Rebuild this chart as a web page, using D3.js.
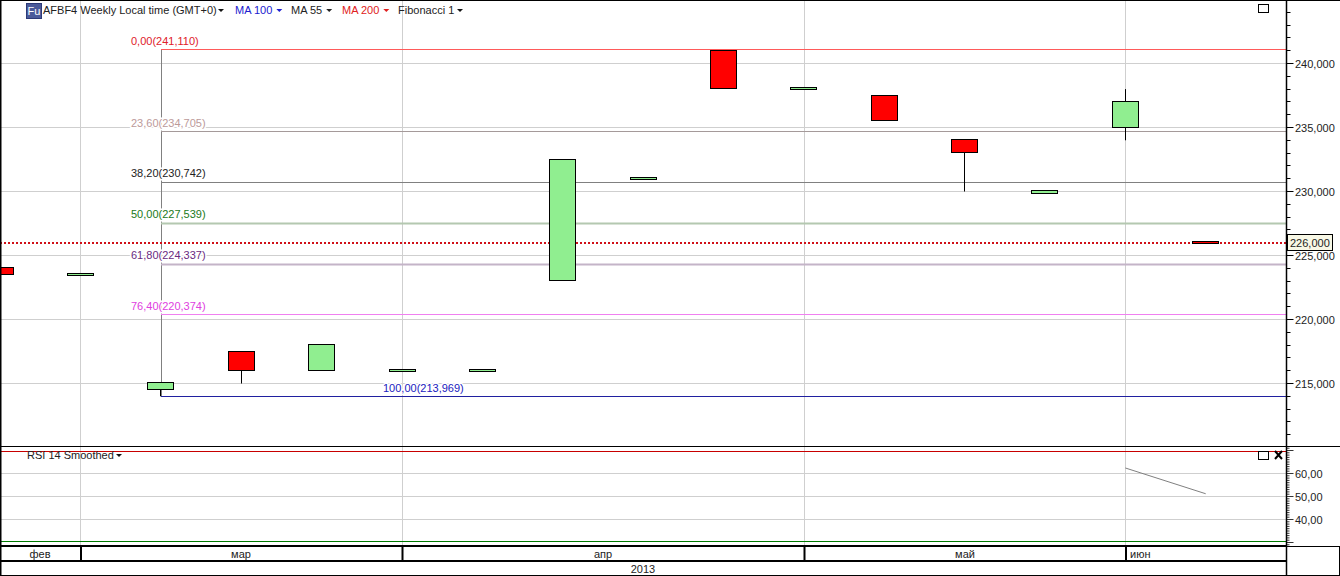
<!DOCTYPE html>
<html><head><meta charset="utf-8">
<script src="https://cdn.jsdelivr.net/npm/d3@7/dist/d3.min.js"></script>
<style>html,body{margin:0;padding:0;background:#fff}svg{display:block}text{font-family:"Liberation Sans",Arial,sans-serif;font-size:11px}</style>
</head><body><svg id="c" width="1340" height="576"></svg>
<script>
// --- data ---
const opens  = [224.0,223.4,214.5,217.5,216.0,215.95,215.95,223.0,230.9,241.0,237.9,237.5,234.0,229.85,235.0,226.05];
const closes = [223.48,223.55,215.05,216.0,218.0,216.1,216.1,232.45,231.05,238.0,238.1,235.5,233.0,230.05,237.0,225.9];
const highs  = [224.0,223.55,215.05,217.5,218.0,216.1,216.1,232.45,231.05,241.0,238.1,237.5,234.0,230.05,238.0,226.05];
const lows   = [223.48,223.4,214.0,215.0,216.0,215.95,215.95,223.0,230.9,238.0,237.9,235.5,230.0,229.85,234.0,225.9];
const priceTicks = [240,235,230,225,220,215];
const fibRatios = ["0,00","23,60","38,20","50,00","61,80","76,40","100,00"];
const fibValues = [241.110,234.705,230.742,227.539,224.337,220.374,213.969];
const fibText   = ["#e0202a","#bc9a9a","#222222","#1a7a1a","#6a2a80","#e040e0","#2020c0"];
const fibLine   = ["#ff5a5a","#a59a9a","#808080","#b4c8b0","#c4b4c8","#f080f0","#2020a0"];
const fibWidth  = [1,1,1,2,2,1,1];
const lastPrice = 226;
const rsiTicks = [60,50,40];
const rsiBars = [14,15];
const rsiValues = [62.4,51.2];
const rsiUpper = 69.5, rsiLower = 30.3;
const months = ["фев","мар","апр","май","июн"];
const year = "2013";
const legend = [["MA 100","#2020d0",235],["MA 55","#222",291],["MA 200","#e02020",342]];

// --- scales ---
const svg = d3.select("#c");
const W=1340,H=576,axisX=1286.5;
const x = d3.scaleLinear().domain([0,15]).range([0.2,1205.7]);
const y = d3.scaleLinear().domain([240,215]).range([63.5,383.5]);
const yr = d3.scaleLinear().domain([60,40]).range([473.5,519.5]);
const snap = v=>Math.round(v-0.5)+0.5;
const line=(x1,y1,x2,y2,c,w=1,dash)=>svg.append("line").attr("x1",x1).attr("y1",y1).attr("x2",x2).attr("y2",y2).attr("stroke",c).attr("stroke-width",w).attr("stroke-dasharray",dash||null);
const text=(s,tx,ty,c="#222",a="start")=>svg.append("text").attr("x",tx).attr("y",ty).attr("fill",c).attr("text-anchor",a).text(s);
const tri=(tx,ty,c)=>svg.append("path").attr("d",`M${tx},${ty}h6l-3,3z`).attr("fill",c);

// --- grid ---
const gridC="#cfcfcf";
[80.5,402.5,804.5,1125.5].forEach(gx=>line(gx,1,gx,545,gridC));
priceTicks.forEach(v=>line(0,snap(y(v)),axisX,snap(y(v)),gridC));
rsiTicks.forEach(v=>line(0,snap(yr(v)),axisX,snap(yr(v)),gridC));

// --- Fibonacci ---
line(161.5,49,161.5,396.5,"#808080");
fibValues.forEach((v,i)=>{
  const ly=fibWidth[i]==2?Math.round(y(v))+0.5:snap(y(v));
  line(161,ly,axisX,ly,fibLine[i],fibWidth[i]);
});
const labelY=[45,127,177,218,259,310,392];
fibValues.forEach((v,i)=>{
  const s=`${fibRatios[i]}(${d3.format(".3f")(v).replace(".",",")})`;
  const lx=i==6?383:131, ly=labelY[i];
  svg.append("text").attr("x",lx).attr("y",ly).attr("fill",fibText[i]).attr("stroke","#fff").attr("stroke-width",3).attr("paint-order","stroke").text(s);
});

// --- last price ---
line(0,243,axisX,243,"#d01018",2,"2,2");

// --- candles ---
opens.forEach((o,i)=>{
  const c=closes[i],cx=snap(x(i));
  const up=c>=o;
  const t=snap(y(Math.max(o,c))-0.4),b=snap(y(Math.min(o,c))-0.4);
  if(highs[i]>Math.max(o,c)) line(cx,y(highs[i]),cx,t,"#000");
  if(lows[i]<Math.min(o,c)) line(cx,b,cx,y(lows[i]),"#000");
  svg.append("rect").attr("x",cx-13).attr("y",t).attr("width",26).attr("height",Math.max(b-t,2))
    .attr("fill",up?"#90ee90":"#ff0000").attr("stroke","#000").attr("stroke-width",1);
});

// --- RSI ---
line(0,snap(yr(rsiUpper)),axisX,snap(yr(rsiUpper)),"#c80000");
line(0,snap(yr(rsiLower)),axisX,snap(yr(rsiLower)),"#007a00");
svg.append("path").datum(rsiValues).attr("fill","none").attr("stroke","#808080")
  .attr("d",d3.line().x((d,i)=>x(rsiBars[i])).y(d=>yr(d)));

// --- panel frame ---
line(0,446.5,W,446.5,"#000");
line(0,0.5,W,0.5,"#000");
line(0.5,0,0.5,H,"#000",2);
line(W-0.5,546,W-0.5,H,"#000");
line(axisX,0,axisX,H,"#000",1.5);

// --- price axis ---
d3.range(205,246,1).forEach(v=>{
  const ty=snap(y(v));
  if(ty<2||ty>445)return;
  line(axisX,ty,axisX+(v%5==0?7:4),ty,"#000");
});
priceTicks.forEach(v=>text(d3.format(".3f")(v).replace(".",","),1295,snap(y(v))+4));

// --- RSI axis ---
d3.range(27,72,1).forEach(v=>{
  const ty=yr(v);
  if(ty<448||ty>545)return;
  line(axisX,ty,axisX+(v%10==0?7:3),ty,"#000",0.8);
});
rsiTicks.forEach(v=>text(`${v},00`,1295,snap(yr(v))+4));

// --- price label ---
svg.append("rect").attr("x",1287.5).attr("y",234.5).attr("width",45).attr("height",16).attr("fill","#f8f8e6").attr("stroke","#000");
text(d3.format(".3f")(lastPrice).replace(".",","),1290,246.5);

// --- time axis ---
line(0,546,axisX,546,"#000",2);
line(axisX,546.5,W,546.5,"#000");
line(0,561,axisX,561,"#000",2);
line(0,575.5,W,575.5,"#000");
[81,402.5,804.5,1126].forEach(tx=>line(tx,546,tx,561,"#000",2));
[[0,40,"middle"],[1,241,"middle"],[2,603,"middle"],[3,965,"middle"],[4,1130,"start"]].forEach(([m,tx,a])=>text(months[m],tx,558,"#222",a));
text(year,643,573,"#222","middle");

// --- toolbar ---
svg.append("rect").attr("x",26.5).attr("y",3.5).attr("width",15).attr("height",15).attr("fill","#4a5a9a").attr("stroke","#2c3a78");
svg.append("text").attr("x",34).attr("y",15).attr("fill","#fff").attr("text-anchor","middle").text("Fu");
text("AFBF4 Weekly Local time (GMT+0)",43,14);
tri(218,9,"#111");
legend.forEach(([s,c,lx])=>{
  const t=text(s,lx,14,c);
  tri(lx+t.node().getComputedTextLength()+4,9,c);
});
text("Fibonacci 1",398,14);
tri(457,9,"#111");
text("RSI 14 Smoothed",27,459);
tri(116,454,"#111");
svg.append("rect").attr("x",1258.5).attr("y",4.5).attr("width",10).attr("height",8).attr("fill","#fff").attr("stroke","#000").attr("stroke-width",1);
svg.append("rect").attr("x",1258.5).attr("y",451.5).attr("width",10).attr("height",8).attr("fill","#fff").attr("stroke","#000").attr("stroke-width",1);
svg.append("path").attr("d","M1275,451l7,8M1282,451l-7,8").attr("stroke","#000").attr("stroke-width",2).attr("fill","none");
</script></body></html>
